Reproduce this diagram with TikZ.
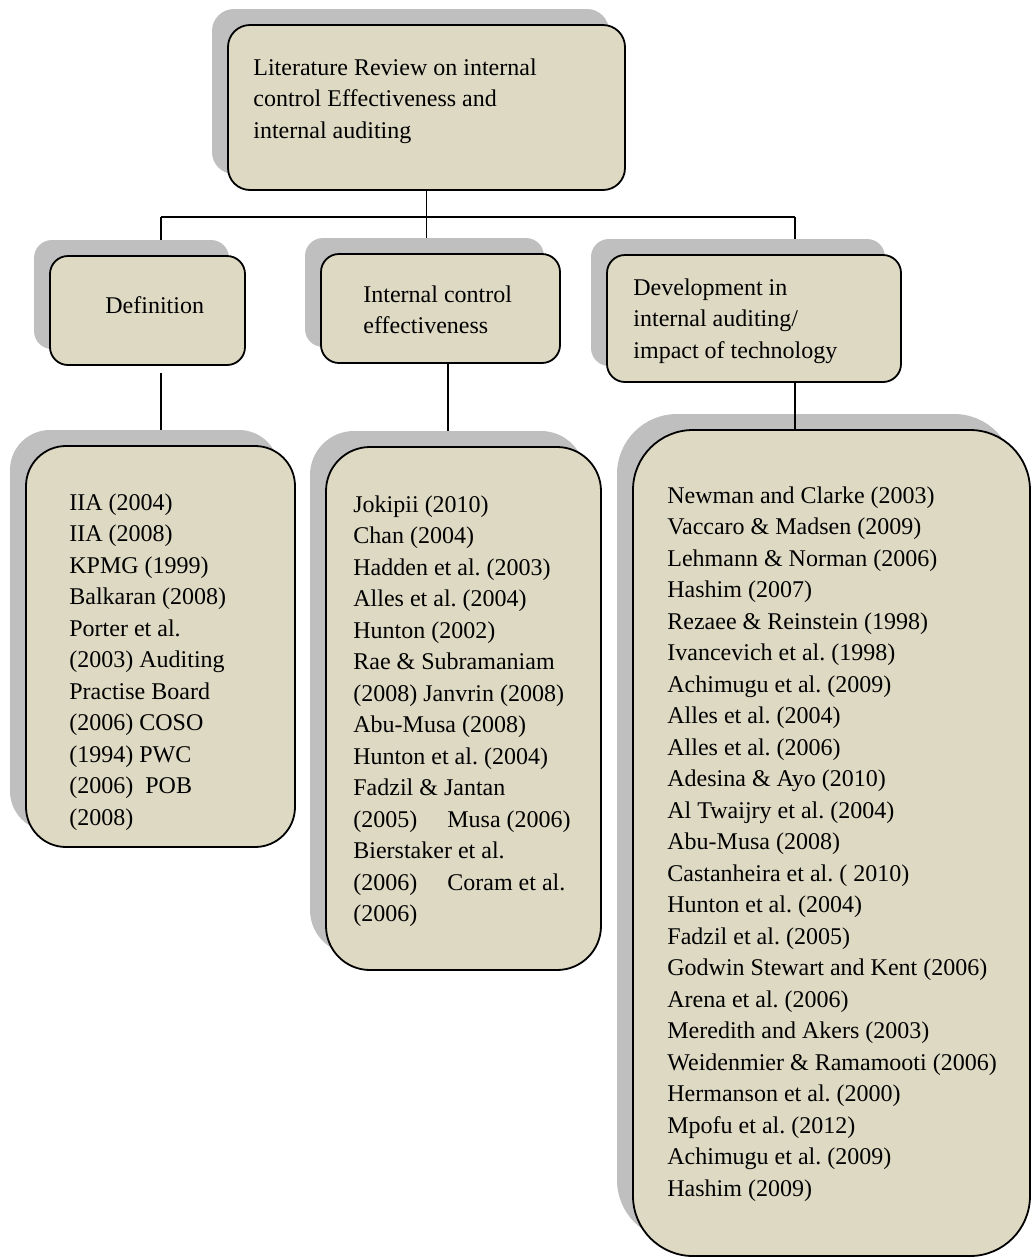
\documentclass[tikz,border=0pt]{standalone}
\usepackage{fontspec}
\setmainfont{Liberation Serif}
\definecolor{boxfill}{HTML}{DDD9C3}
\definecolor{shadowgrey}{HTML}{BFBFBF}
\newdimen\pxu \pxu=0.5pt
\pgfdeclarelayer{lines}
\pgfdeclarelayer{shadowlayer}
\pgfsetlayers{lines,shadowlayer,main}
% grey shadow cast up and to the left of a named box
\newcommand\castshadow[2]{%
  \begin{pgfonlayer}{shadowlayer}
    \fill[fill=shadowgrey, rounded corners=#2]
      ([shift={(-16,-16)}]#1.north west) rectangle ([shift={(-16,-16)}]#1.south east);
  \end{pgfonlayer}}
\begin{document}
\frenchspacing
\begin{tikzpicture}[x=0.5pt,y=-0.5pt,
  box/.style={draw=black, line width=0.9pt, fill=boxfill, anchor=north west,
    inner sep=0pt, outer sep=0pt},
  conn/.style={draw=black, line width=0.9pt},
  txt/.style={anchor=base west, inner sep=0pt, font=\fontsize{12}{15.75}\selectfont}]
\useasboundingbox (0,0) rectangle (1033,1259);

% boxes
\node[box, rounded corners=11pt, minimum width=397\pxu, minimum height=165\pxu] (top) at (228,25) {};
\node[box, rounded corners=9pt, minimum width=195\pxu, minimum height=109\pxu] (defn) at (50,256) {};
\node[box, rounded corners=9pt, minimum width=239\pxu, minimum height=109\pxu] (ice) at (321,254) {};
\node[box, rounded corners=9pt, minimum width=294\pxu, minimum height=127\pxu] (dev) at (607,255) {};
\node[box, rounded corners=20pt, minimum width=269\pxu, minimum height=401\pxu] (llist) at (26,446) {};
\node[box, rounded corners=22pt, minimum width=275\pxu, minimum height=523\pxu] (mlist) at (326,447) {};
\node[box, rounded corners=30pt, minimum width=397\pxu, minimum height=826\pxu] (rlist) at (633,430) {};

\castshadow{top}{11pt}
\castshadow{defn}{9pt}
\castshadow{ice}{9pt}
\castshadow{dev}{9pt}
\castshadow{llist}{20pt}
\castshadow{mlist}{22pt}
\castshadow{rlist}{30pt}

% junction points of the branching connector
\coordinate (busL) at (161,217);
\coordinate (busR) at (795,217);
\coordinate (iceDrop) at (448,0);

% connectors lying under the shadows
\begin{pgfonlayer}{lines}
  \draw[conn] (top.south) -- (top.south |- busL);
  \draw[conn] (busL) -- (busR);
  \draw[conn] (busL) -- (busL |- defn.north);
  \draw[conn] (top.south |- busL) -- (top.south |- ice.north);
  \draw[conn] (busR) -- (busR |- dev.north);
  \draw[conn] ([yshift=-4pt]busL |- defn.south) -- (busL |- llist.north);
  \draw[conn] (iceDrop |- ice.south) -- (iceDrop |- mlist.north);
\end{pgfonlayer}
% connector lying over the shadow of the right list
\draw[conn] (busR |- dev.south) -- (busR |- rlist.north);

% texts
\node[txt] (topText) at (253,75) {\parbox[t]{380pt}{\raggedright
  Literature Review on internal\\control Effectiveness and\\internal auditing}};
\node[txt] (defnText) at (105,313) {Definition};
\node[txt] (iceText) at (363,302) {\parbox[t]{200pt}{\raggedright
  Internal control\\effectiveness}};
\node[txt] (devText) at (633,295) {\parbox[t]{200pt}{\raggedright
  Development in\\internal auditing/\\impact of technology}};
\node[txt] (llistText) at (69,510) {\parbox[t]{200pt}{\raggedright
  IIA (2004)\\IIA (2008)\\KPMG (1999)\\Balkaran (2008)\\Porter et al.\\(2003) Auditing\\Practise Board\\(2006) COSO\\(1994) PWC\\(2006)\hspace{6pt}POB\\(2008)}};
\node[txt] (mlistText) at (353,512) {\parbox[t]{200pt}{\raggedright
  Jokipii (2010)\\Chan (2004)\\Hadden et al. (2003)\\Alles et al. (2004)\\Hunton (2002)\\Rae \& Subramaniam\\(2008) Janvrin (2008)\\Abu-Musa (2008)\\Hunton et al. (2004)\\Fadzil \& Jantan\\(2005)\hspace{15pt}Musa (2006)\\Bierstaker et al.\\(2006)\hspace{15pt}Coram et al.\\(2006)}};
\node[txt] (rlistText) at (667,503) {\parbox[t]{200pt}{\raggedright
  Newman and Clarke (2003)\\Vaccaro \& Madsen (2009)\\Lehmann \& Norman (2006)\\Hashim (2007)\\Rezaee \& Reinstein (1998)\\Ivancevich et al. (1998)\\Achimugu et al. (2009)\\Alles et al. (2004)\\Alles et al. (2006)\\Adesina \& Ayo (2010)\\Al Twaijry et al. (2004)\\Abu-Musa (2008)\\Castanheira et al. ( 2010)\\Hunton et al. (2004)\\Fadzil et al. (2005)\\Godwin Stewart and Kent (2006)\\Arena et al. (2006)\\Meredith and Akers (2003)\\Weidenmier \& Ramamooti (2006)\\Hermanson et al. (2000)\\Mpofu et al. (2012)\\Achimugu et al. (2009)\\Hashim (2009)}};
\end{tikzpicture}
\end{document}
